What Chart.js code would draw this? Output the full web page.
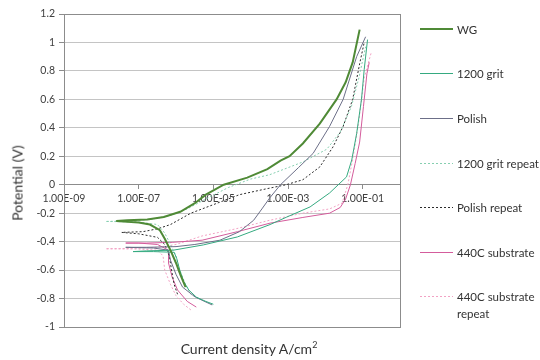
<!DOCTYPE html>
<html>
<head>
<meta charset="utf-8">
<script src="https://cdn.jsdelivr.net/npm/chart.js@4.4.1/dist/chart.umd.min.js"></script>
<style>
  body { margin: 0; background: #fff; }
  #wrap { position: relative; width: 540px; height: 360px; font-family: Lato, sans-serif; color: #333; }
  #chart { position: absolute; left: 0; top: 0; }
  .ytitle { position: absolute; left: 17px; top: 183px; transform: translate(-50%, -50%) rotate(-90deg); font-size: 14px; white-space: nowrap; color: #333; }
  .xtitle { position: absolute; left: 249px; top: 348px; transform: translate(-50%, -50%); font-size: 14px; white-space: nowrap; }
  .xtitle sup { font-size: 9px; }
  .leg { position: absolute; left: 420px; font-size: 11.5px; line-height: 17px; }
  .leg svg { position: absolute; left: 0; top: 7px; }
  .leg span { position: absolute; left: 37px; top: 0; white-space: pre; }
</style>
</head>
<body>
<div id="wrap">
  <canvas id="chart" width="540" height="360"></canvas>
  <div class="ytitle">Potential (V)</div>
  <div class="xtitle">Current density A/cm<sup>2</sup></div>
  <div id="legend"></div>
</div>
<script>
// axis ticks
const xTickValues = [1e-9, 1e-7, 1e-5, 1e-3, 1e-1];
const xTickLabels = ['1.00E-09', '1.00E-07', '1.00E-05', '1.00E-03', '1.00E-01'];

const seriesNames = ['WG', '1200 grit', 'Polish', '1200 grit repeat', 'Polish repeat', '440C substrate', '440C substrate\nrepeat'];

// each curve: cathodic end -> corrosion potential -> anodic end (A/cm2, V)
const wgCurrent = [1.8e-6, 1.3e-6, 1.0e-6, 7.1e-7, 5.0e-7, 3.7e-7, 2.0e-7, 1.0e-7, 4.0e-8, 2.5e-8,
  5.0e-8, 1.7e-7, 4.7e-7, 1.3e-6, 3.2e-6, 6.3e-6, 1.9e-5, 8.1e-5, 2.8e-4, 6.3e-4, 1.1e-3, 2.5e-3, 7.1e-3, 2.0e-2, 3.5e-2, 5.4e-2, 8.3e-2];
const wgPotential = [-0.72, -0.63, -0.55, -0.46, -0.38, -0.32, -0.28, -0.265, -0.258, -0.255,
  -0.25, -0.245, -0.227, -0.19, -0.13, -0.07, 0.0, 0.05, 0.11, 0.17, 0.2, 0.29, 0.43, 0.6, 0.72, 0.86, 1.09];

const grit1200Current = [1.0e-5, 6.3e-6, 3.5e-6, 2.2e-6, 1.6e-6, 1.26e-6, 1.05e-6, 8.9e-7, 2.5e-7, 7.1e-8,
  1.6e-7, 8.5e-7, 5.4e-6, 4.4e-5, 3.3e-4, 9.3e-4, 3.9e-3, 1.3e-2, 3.7e-2, 5.1e-2, 6.9e-2, 9.3e-2, 1.1e-1, 1.35e-1];
const grit1200Potential = [-0.84, -0.82, -0.79, -0.74, -0.68, -0.6, -0.52, -0.475, -0.47, -0.47,
  -0.465, -0.46, -0.423, -0.367, -0.28, -0.227, -0.156, -0.058, 0.055, 0.174, 0.36, 0.6, 0.81, 1.02];

const polishCurrent = [9.3e-6, 3.3e-6, 1.5e-6, 1.0e-6, 7.1e-7, 6.3e-7, 2.5e-7, 4.5e-8,
  1.6e-7, 1.0e-6, 3.2e-6, 1.5e-5, 5.0e-5, 1.2e-4, 2.0e-4, 3.3e-4, 6.3e-4, 1.9e-3, 4.7e-3, 1.3e-2, 3.0e-2, 6.9e-2, 1.2e-1];
const polishPotential = [-0.845, -0.79, -0.72, -0.63, -0.53, -0.46, -0.445, -0.44,
  -0.44, -0.435, -0.42, -0.39, -0.33, -0.25, -0.17, -0.09, 0.0, 0.12, 0.22, 0.41, 0.6, 0.9, 1.04];

const gritRepeatCurrent = [4.0e-6, 2.5e-6, 1.8e-6, 1.26e-6, 1.0e-6, 7.1e-7, 5.0e-7, 3.2e-7, 1.0e-7, 1.3e-8,
  6.3e-8, 2.5e-7, 6.3e-7, 2.0e-6, 6.3e-6, 2.5e-5, 1.0e-4, 3.2e-4, 2.5e-3, 1.1e-2, 2.5e-2, 5.0e-2, 7.9e-2, 1.2e-1];
const gritRepeatPotential = [-0.8, -0.77, -0.7, -0.6, -0.5, -0.42, -0.34, -0.28, -0.262, -0.258,
  -0.255, -0.24, -0.22, -0.17, -0.1, -0.02, 0.04, 0.07, 0.16, 0.25, 0.37, 0.55, 0.75, 0.97];

const polishRepeatCurrent = [1.1e-6, 8.9e-7, 7.6e-7, 6.6e-7, 5.0e-7, 3.2e-7, 1.0e-7, 3.5e-8,
  1.3e-7, 3.2e-7, 7.1e-7, 2.5e-6, 1.0e-5, 5.0e-5, 2.5e-4, 8.9e-4, 2.5e-3, 7.1e-3, 1.6e-2, 3.0e-2, 5.4e-2, 8.3e-2, 1.1e-1];
const polishRepeatPotential = [-0.77, -0.7, -0.6, -0.5, -0.42, -0.37, -0.345, -0.335,
  -0.33, -0.31, -0.28, -0.2, -0.14, -0.07, -0.03, 0.0, 0.035, 0.125, 0.265, 0.41, 0.6, 0.85, 1.0];

const sub440Current = [3.5e-6, 2.0e-6, 1.1e-6, 7.9e-7, 6.3e-7, 6.3e-7, 3.2e-7, 1.0e-7, 4.5e-8,
  1.6e-7, 7.9e-7, 5.0e-6, 4.4e-5, 3.3e-4, 2.5e-3, 1.3e-2, 2.5e-2, 3.5e-2, 4.7e-2, 6.3e-2, 8.3e-2, 1.05e-1, 1.3e-1, 1.5e-1];
const sub440Potential = [-0.86, -0.82, -0.74, -0.65, -0.55, -0.46, -0.42, -0.41, -0.41,
  -0.41, -0.405, -0.39, -0.33, -0.27, -0.23, -0.2, -0.16, -0.1, 0.0, 0.15, 0.3, 0.55, 0.78, 0.86];

const sub440RepeatCurrent = [2.5e-6, 1.6e-6, 1.0e-6, 7.1e-7, 5.0e-7, 4.5e-7, 3.2e-7, 1.0e-7, 1.3e-8,
  6.3e-8, 3.2e-7, 1.0e-6, 5.0e-6, 4.0e-5, 3.2e-4, 2.5e-3, 1.3e-2, 2.8e-2, 4.0e-2, 5.6e-2, 7.9e-2, 1.1e-1, 1.7e-1];
const sub440RepeatPotential = [-0.88, -0.84, -0.78, -0.7, -0.6, -0.5, -0.46, -0.452, -0.45,
  -0.448, -0.44, -0.42, -0.36, -0.31, -0.25, -0.2, -0.17, -0.13, 0.0, 0.2, 0.45, 0.75, 0.93];

const seriesData = [
  [wgCurrent, wgPotential],
  [grit1200Current, grit1200Potential],
  [polishCurrent, polishPotential],
  [gritRepeatCurrent, gritRepeatPotential],
  [polishRepeatCurrent, polishRepeatPotential],
  [sub440Current, sub440Potential],
  [sub440RepeatCurrent, sub440RepeatPotential]
];

const seriesStyles = [
  { color: '#4f8a36', width: 2, dash: [] },
  { color: '#35aa80', width: 1, dash: [] },
  { color: '#6c6f88', width: 1, dash: [] },
  { color: '#86cfb0', width: 1, dash: [2, 2] },
  { color: '#2b2b2b', width: 1, dash: [2, 2] },
  { color: '#d45c9c', width: 1, dash: [] },
  { color: '#f2a2c4', width: 1, dash: [2, 2] }
];

const legendY = [29, 73, 118, 163, 207, 252, 296];

function toPoints(cur, pot) {
  return cur.map((c, i) => ({ x: c, y: pot[i] }));
}

let datasets = seriesNames.map((name, i) => ({
  label: name,
  data: toPoints(seriesData[i][0], seriesData[i][1]),
  borderColor: seriesStyles[i].color,
  borderWidth: seriesStyles[i].width,
  borderDash: seriesStyles[i].dash,
  showLine: true,
  pointRadius: 0,
  tension: 0,
  fill: false
}));

const framePlugin = {
  id: 'frame',
  beforeDatasetsDraw(chart) {
    const a = chart.chartArea;
    const ctx = chart.ctx;
    ctx.save();
    ctx.strokeStyle = '#8c8c8c';
    ctx.lineWidth = 1;
    ctx.strokeRect(Math.round(a.left) + 0.5, Math.round(a.top) + 0.5, Math.round(a.right - a.left), Math.round(a.bottom - a.top));
    ctx.restore();
  }
};

new Chart(document.getElementById('chart'), {
  type: 'scatter',
  data: { datasets: datasets },
  options: {
    responsive: false,
    animation: false,
    layout: { padding: { top: 14, right: 140, left: 0, bottom: 33 } },
    plugins: { legend: { display: false }, tooltip: { enabled: false } },
    scales: {
      x: {
        type: 'logarithmic',
        position: { y: 0 },
        min: 1e-9,
        max: 1,
        afterBuildTicks: s => { s.ticks = xTickValues.map(v => ({ value: v })); },
        ticks: {
          autoSkip: false,
          maxRotation: 0,
          padding: 4,
          color: '#404040',
          font: { family: 'Lato', size: 10.5 },
          callback: (v, i) => xTickLabels[i]
        },
        grid: { drawOnChartArea: false, drawTicks: true, tickLength: 4, color: '#8c8c8c' },
        border: { color: '#8c8c8c' }
      },
      y: {
        min: -1,
        max: 1.2,
        afterFit: s => { s.width = 64; },
        ticks: {
          stepSize: 0.2,
          padding: 4,
          color: '#404040',
          font: { family: 'Lato', size: 10.5 },
          callback: v => String(Math.round(v * 10) / 10)
        },
        grid: { color: '#c4c4c4', tickLength: 5, tickColor: '#8c8c8c' },
        border: { color: '#8c8c8c' }
      }
    }
  },
  plugins: [framePlugin]
});

// legend
const legendBox = document.getElementById('legend');
seriesNames.forEach((name, i) => {
  const st = seriesStyles[i];
  const item = document.createElement('div');
  item.className = 'leg';
  item.style.top = (legendY[i] - 8) + 'px';
  item.innerHTML = '<svg width="33" height="3" shape-rendering="crispEdges"><line x1="0" y1="1" x2="33" y2="1" stroke="' + st.color +
    '" stroke-width="' + st.width + '"' + (st.dash.length ? ' stroke-dasharray="2,2"' : '') + '/></svg>';
  const txt = document.createElement('span');
  txt.textContent = name;
  item.appendChild(txt);
  legendBox.appendChild(item);
});
</script>
</body>
</html>
